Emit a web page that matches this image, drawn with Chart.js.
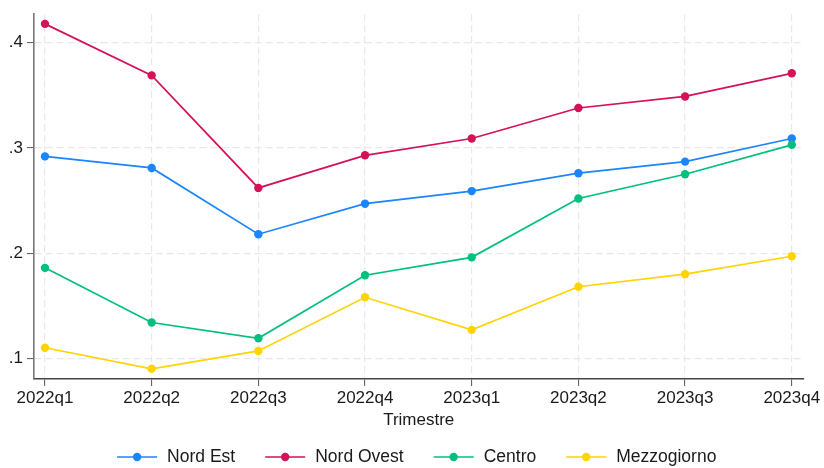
<!DOCTYPE html>
<html>
<head>
<meta charset="utf-8">
<script src="https://cdn.jsdelivr.net/npm/chart.js@4"></script>
<style>
html,body{margin:0;padding:0;background:#fff;}
#wrap{width:824px;height:468px;}
</style>
</head>
<body>
<div id="wrap"><canvas id="c" width="824" height="468"></canvas></div>
<script>
const quarters = ["2022q1","2022q2","2022q3","2022q4","2023q1","2023q2","2023q3","2023q4"];
const nordEst     = [0.292, 0.281, 0.218, 0.247, 0.259, 0.276, 0.287, 0.309];
const nordOvest   = [0.418, 0.369, 0.262, 0.293, 0.309, 0.338, 0.349, 0.371];
const centro      = [0.186, 0.134, 0.119, 0.179, 0.196, 0.252, 0.275, 0.303];
const mezzogiorno = [0.110, 0.090, 0.107, 0.158, 0.127, 0.168, 0.180, 0.197];
const yTicks = [0.1, 0.2, 0.3, 0.4];
const seriesNames = ["Nord Est","Nord Ovest","Centro","Mezzogiorno"];
const seriesColors = ["#1a85ff","#d41159","#00bf7f","#ffd400"];
const seriesValues = [nordEst, nordOvest, centro, mezzogiorno];

const FONT = '"Liberation Sans", Arial, Helvetica, sans-serif';
const TXT = '#1a1a1a';

const datasets = seriesValues.map((vals, i) => ({
  label: seriesNames[i],
  data: vals.map((v, k) => ({x: k, y: v})),
  borderColor: seriesColors[i],
  backgroundColor: seriesColors[i],
  pointBackgroundColor: seriesColors[i],
  pointBorderColor: seriesColors[i],
  borderWidth: 1.7,
  pointRadius: 4.2,
  pointBorderWidth: 0,
  tension: 0,
  order: seriesValues.length - i
}));

const legendPlugin = {
  id: 'customLegend',
  afterDraw(chart) {
    const ctx = chart.ctx;
    ctx.save();
    ctx.font = '17.5px ' + FONT;
    const markerW = 40, gapText = 10, gapItem = 30;
    const widths = seriesNames.map(n => markerW + gapText + ctx.measureText(n).width);
    const total = widths.reduce((a, b) => a + b, 0) + gapItem * (seriesNames.length - 1);
    const ca = chart.chartArea;
    let x = (ca.left + ca.right) / 2 - total / 2 - 2;
    const y = 457;
    seriesNames.forEach((n, i) => {
      ctx.strokeStyle = seriesColors[i];
      ctx.lineWidth = 1.7;
      ctx.beginPath();
      ctx.moveTo(x, y);
      ctx.lineTo(x + markerW, y);
      ctx.stroke();
      ctx.fillStyle = seriesColors[i];
      ctx.beginPath();
      ctx.arc(x + markerW / 2, y, 4.2, 0, Math.PI * 2);
      ctx.fill();
      ctx.fillStyle = TXT;
      ctx.textBaseline = 'middle';
      ctx.textAlign = 'left';
      ctx.fillText(n, x + markerW + gapText, y);
      x += widths[i] + gapItem;
    });
    ctx.restore();
  }
};

new Chart(document.getElementById('c'), {
  type: 'line',
  data: { datasets },
  options: {
    responsive: false,
    animation: false,
    devicePixelRatio: 1,
    layout: { padding: { left: 0, right: 20.5, top: 13, bottom: 37 } },
    plugins: { legend: { display: false }, tooltip: { enabled: false } },
    scales: {
      x: {
        type: 'linear',
        min: -0.103,
        max: 7.11,
        afterFit(scale) { scale.height = 52; },
        afterBuildTicks(scale) { scale.ticks = quarters.map((q, k) => ({value: k})); },
        ticks: {
          callback: (v) => quarters[v],
          font: { family: FONT, size: 17 },
          color: TXT,
          padding: 2,
          maxRotation: 0,
          autoSkip: false
        },
        grid: {
          color: '#e8e8e8',
          lineWidth: 1.2,
          drawTicks: true,
          tickLength: 7,
          tickColor: '#555',
          tickWidth: 1,
          tickBorderDash: []
        },
        border: { display: true, color: '#444', width: 1.5, dash: [7, 4] },
        title: {
          display: true,
          text: 'Trimestre',
          font: { family: FONT, size: 17 },
          color: TXT,
          padding: { top: 0, bottom: 0 }
        }
      },
      y: {
        type: 'linear',
        min: 0.0803,
        max: 0.4272,
        afterFit(scale) { scale.width = 34; },
        afterBuildTicks(scale) { scale.ticks = yTicks.map(v => ({value: v})); },
        ticks: {
          callback: (v) => String(Math.round(v * 10) / 10).replace(/^0/, ''),
          font: { family: FONT, size: 17 },
          color: TXT,
          padding: 4
        },
        grid: {
          color: '#e8e8e8',
          lineWidth: 1.2,
          drawTicks: true,
          tickLength: 7,
          tickColor: '#555',
          tickWidth: 1,
          tickBorderDash: []
        },
        border: { display: true, color: '#777', width: 1.6, dash: [7, 4] }
      }
    }
  },
  plugins: [legendPlugin]
});
</script>
</body>
</html>
